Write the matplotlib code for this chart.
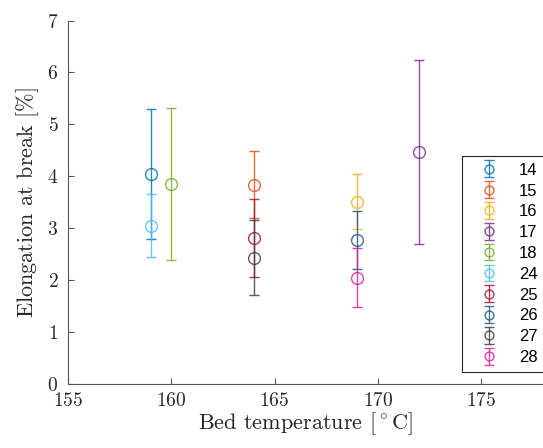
import numpy as np
import matplotlib
matplotlib.use("Agg")
import matplotlib.pyplot as plt

# sample ids, bed temperature, mean and half-width of error bar
labels = ["14", "15", "16", "17", "18", "24", "25", "26", "27", "28"]
temps = [159, 164, 169, 172, 160, 159, 164, 169, 164, 169]
means = [4.05, 3.84, 3.51, 4.47, 3.85, 3.05, 2.81, 2.78, 2.43, 2.05]
errs = [1.25, 0.65, 0.53, 1.77, 1.46, 0.60, 0.75, 0.56, 0.72, 0.56]
colors = ["#0072bd", "#d95319", "#edb120", "#7e2f8e", "#77ac30",
          "#4dbeee", "#a2142f", "#1f5a8c", "#404040", "#e0209a"]

plt.rcParams["font.family"] = "serif"
plt.rcParams["font.serif"] = ["cmr10"]
plt.rcParams["mathtext.fontset"] = "cm"
plt.rcParams["axes.unicode_minus"] = False
plt.rcParams["axes.formatter.use_mathtext"] = True

fig = plt.figure(figsize=(5.43, 4.48), dpi=100)
ax = fig.add_axes([68 / 543, 64 / 448, 1.0 - 68 / 543, (384 - 20.5) / 448])

for t, m, e, c, lab in zip(temps, means, errs, colors, labels):
    ax.errorbar(t, m, yerr=e, fmt="o", color=c, mfc="none", ms=8.5,
                mew=1.0, elinewidth=1.0, capsize=3.6, capthick=1.0, alpha=0.85,
                label=lab)

ax.set_xlim(155, 178)
ax.set_ylim(0, 7)
ax.set_xticks([155, 160, 165, 170, 175])
ax.set_yticks(range(8))
for s in ["top", "right"]:
    ax.spines[s].set_visible(False)
for s in ["left", "bottom"]:
    ax.spines[s].set_color("#555555")
ax.tick_params(direction="in", length=4, color="#555555", labelsize=14,
               labelcolor="#262626")
ax.tick_params(axis="y", pad=7)
ax.tick_params(axis="x", pad=6)
ax.set_xlabel(r"Bed temperature $[^\circ\mathrm{C}]$", fontsize=16, color="#262626",
              labelpad=0)
ax.set_ylabel(r"Elongation at break $[\%]$", fontsize=16, color="#262626",
              labelpad=4)

leg = ax.legend(loc="upper left", bbox_to_anchor=(462 / 543, 1 - 156 / 448),
                bbox_transform=fig.transFigure, borderaxespad=0,
                prop={"family": "Liberation Sans", "size": 12},
                frameon=True, fancybox=False, edgecolor="#262626", framealpha=1,
                handlelength=2.4, labelspacing=0.35, borderpad=0.4,
                handletextpad=0.6, markerscale=0.75)
leg.get_frame().set_linewidth(0.8)

fig.savefig("out.png", dpi=100)
